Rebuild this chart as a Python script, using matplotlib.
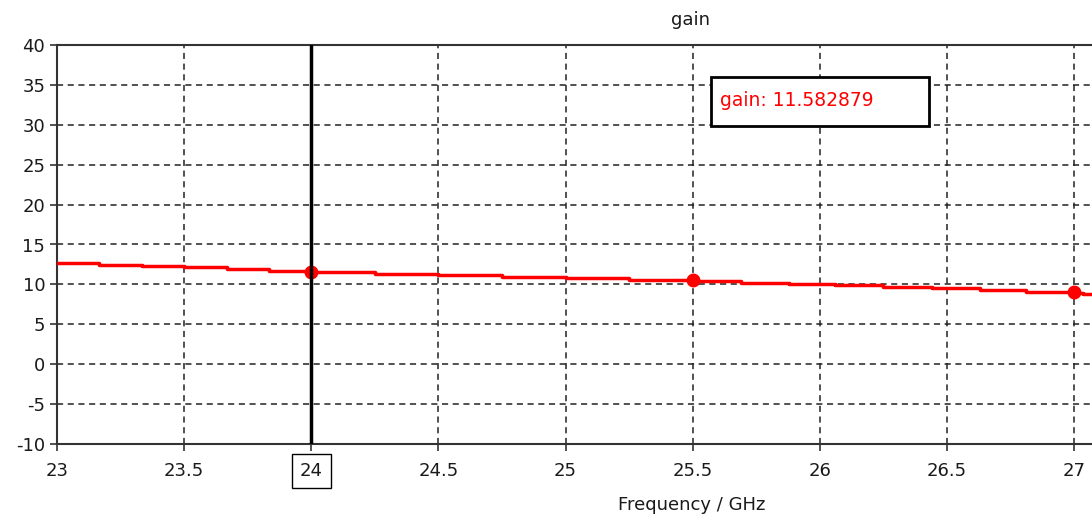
import matplotlib.pyplot as plt
from matplotlib.patches import Rectangle

# sampled gain curve (drawn as a staircase)
freq = [23.0, 23.167, 23.333, 23.5, 23.667, 23.833, 24.0, 24.25, 24.5, 24.75,
        25.0, 25.25, 25.5, 25.69, 25.88, 26.06, 26.25, 26.44, 26.63, 26.81,
        27.0, 27.035, 27.07]
gain = [12.64, 12.47, 12.31, 12.18, 11.93, 11.70, 11.58, 11.34, 11.14, 10.93,
        10.80, 10.60, 10.47, 10.20, 10.02, 9.88, 9.67, 9.50, 9.30, 9.08,
        8.98, 8.85, 8.85]

marker_freq = [24.0, 25.5, 27.0]
marker_gain = [11.582879, 10.55, 9.05]
cursor_freq = 24.0
cursor_text = "gain: 11.582879"

xticks = [23, 23.5, 24, 24.5, 25, 25.5, 26, 26.5, 27]
xticklabels = ["23", "23.5", "24", "24.5", "25", "25.5", "26", "26.5", "27"]
yticks = list(range(-10, 45, 5))

plt.rcParams['font.family'] = ['DejaVu Sans']
plt.rcParams['axes.unicode_minus'] = False

fig = plt.figure(figsize=(10.92, 5.2), dpi=100)
ax = fig.add_axes([57 / 1092, 76 / 520, 1035 / 1092, 399 / 520])

ax.step(freq, gain, where='post', color='#ff0000', lw=2.5, zorder=3)
ax.plot(marker_freq, marker_gain, 'o', color='#ff0000', ms=9, zorder=4, clip_on=False)
ax.axvline(cursor_freq, color='black', lw=2.5, zorder=5)

ax.set_xlim(23, 27.07)
ax.set_ylim(-10, 40)
ax.set_xticks(xticks)
ax.set_xticklabels(xticklabels)
ax.set_yticks(yticks)

ax.grid(True, color='#222222', linestyle=(0, (4, 3)), lw=1.1)
ax.set_axisbelow(True)
for side in ['left', 'top', 'bottom']:
    ax.spines[side].set_color('#333333')
    ax.spines[side].set_linewidth(1.5)
ax.spines['right'].set_visible(False)

ax.tick_params(axis='both', direction='out', length=5, width=1.2, color='#333333',
               labelsize=13, labelcolor='#1a1a1a')
ax.tick_params(axis='x', pad=8)

for lbl in ax.get_xticklabels():
    if lbl.get_text() == "24":
        lbl.set_bbox(dict(boxstyle='square,pad=0.45', fc='white', ec='black', lw=1))

# marker readout box
ax.add_patch(Rectangle((0.632, 0.797), 0.2105, 0.123, transform=ax.transAxes,
                       fc='white', ec='black', lw=2, zorder=6))
ax.text(0.6405, 0.86, cursor_text, transform=ax.transAxes, color='#ff0000', fontsize=13.5,
        va='center', ha='left', zorder=7)

fig.text(690 / 1092, 1 - 20 / 520, "gain", ha='center', va='center', fontsize=13, color='#1a1a1a')
fig.text(692 / 1092, 1 - 505 / 520, "Frequency / GHz", ha='center', va='center',
         fontsize=13, color='#1a1a1a')

fig.savefig("out.png", dpi=100)
